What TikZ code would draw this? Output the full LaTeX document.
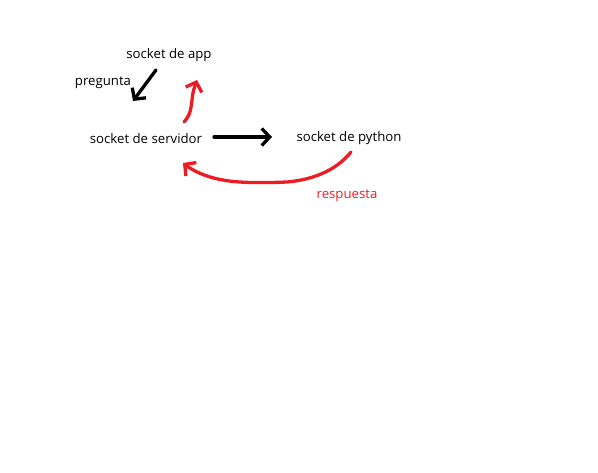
\documentclass[tikz,border=0pt]{standalone}
\usepackage{fontspec}
\setmainfont{Open Sans}
\usetikzlibrary{arrows.meta}
\definecolor{pen}{RGB}{237,28,36}
\tikzset{
  lbl/.style={inner sep=0pt, font=\fontsize{13.2}{15}\selectfont},
  stroke/.style={line width=3.3pt, line cap=round, line join=round,
    -{Straight Barb[length=8pt, width=17pt, line width=3.3pt]}},
}
\begin{document}
\begin{tikzpicture}[x=1pt,y=-1pt]
\useasboundingbox (0,0) rectangle (598,473);
\node[lbl] (app) at (169,55) {socket de app};
\node[lbl] (preg) at (103,83) {pregunta};
\node[lbl] (serv) at (146,139) {socket de servidor};
\node[lbl] (py) at (349,138) {socket de python};
\node[lbl, text=pen] (resp) at (347,196) {respuesta};

\coordinate (a1) at (156,70);
\coordinate (a2) at (133,101);
\draw[stroke, black] (a1) -- (a2);

\coordinate (b1) at (184,122);
\coordinate (b2) at (197,80);
\draw[stroke, pen] (b1) .. controls (191,114) and (191,108) .. (192,100) .. controls (193,90) and (195,86) .. (b2);

\coordinate (c1) at (214,137);
\coordinate (c2) at (272,137);
\draw[stroke, black] (c1) -- (c2);

\coordinate (d1) at (351,152);
\coordinate (d2) at (183,163);
\draw[stroke, pen] (d1) .. controls (335,172) and (310,180) .. (287,182)
  .. controls (262,183) and (238,183) .. (223,180)
  .. controls (205,177) and (192,170) .. (d2);
\end{tikzpicture}
\end{document}
